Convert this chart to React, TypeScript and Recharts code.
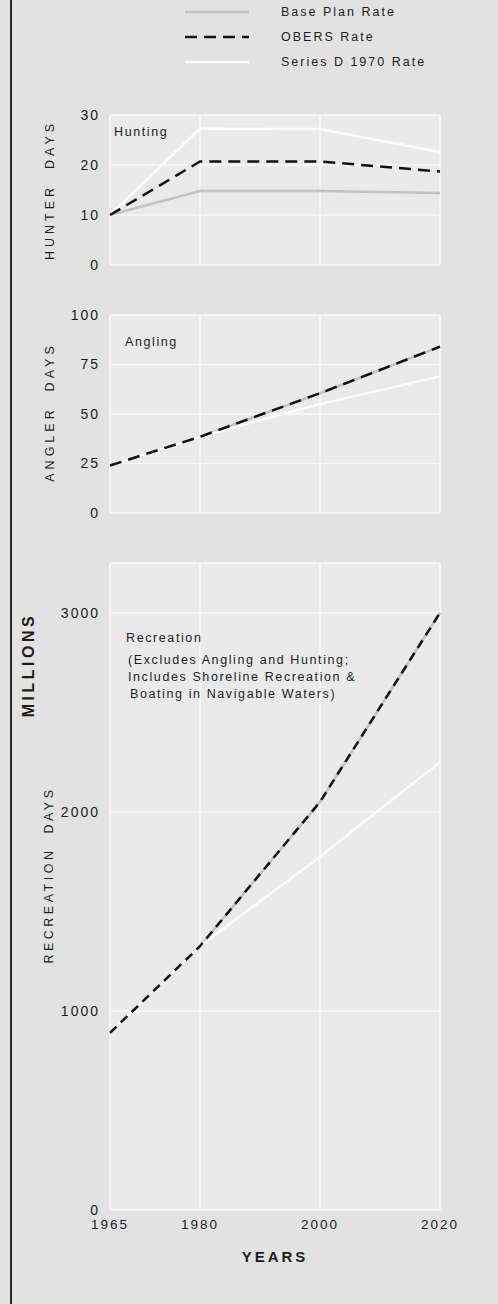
import React from 'react';
import { LineChart, Line, XAxis, YAxis, CartesianGrid, Legend, Label } from 'recharts';

const years = [1965, 1980, 2000, 2020];
const yearTicks = [1965, 1980, 2000, 2020];

// Hunting (hunter days, millions)
const huntBase = [10, 14.8, 14.8, 14.4];
const huntObers = [10, 20.7, 20.7, 18.7];
const huntSeriesD = [10, 27.3, 27.2, 22.6];
const huntTicks = [0, 10, 20, 30];

// Angling (angler days, millions)
const angBase = [24, 38.5, 60.5, 84];
const angObers = [24, 38.5, 60.5, 84];
const angSeriesD = [24, 38.5, 55, 69];
const angTicks = [0, 25, 50, 75, 100];

// Recreation (recreation days, millions)
const recBase = [890, 1325, 2050, 3000];
const recObers = [890, 1325, 2050, 3000];
const recSeriesD = [890, 1325, 1775, 2250];
const recTicks = [0, 1000, 2000, 3000];

const legendOrder = ['Base Plan Rate', 'OBERS Rate', 'Series D 1970 Rate'];

const BG = '#e2e2e2';
const PLOT = '#eaeaea';
const GRID = '#f8f8f8';
const INK = '#1c1c1c';
const BASE_COLOR = '#c2c2c2';
const SERIESD_COLOR = '#fbfbfb';
const FONT = '"Liberation Sans", Arial, sans-serif';

const build = (base: number[], obers: number[], seriesD: number[]) =>
  years.map((year, i) => ({ year, base: base[i], obers: obers[i], seriesD: seriesD[i] }));

const tickStyle = { fill: INK, fontSize: 14, letterSpacing: 2 };

// legend box is 80px tall; the chart adds it to the top offset
const LegendBox = (props: any) => {
  const items = [...(props.payload || [])].sort(
    (a: any, b: any) => legendOrder.indexOf(a.value) - legendOrder.indexOf(b.value)
  );
  return (
    <div style={{ position: 'relative', width: 498, height: 80 }}>
      {items.map((it: any, i: number) => (
        <div key={it.value} style={{ position: 'absolute', top: 3 + i * 25, left: 185, height: 18, display: 'flex', alignItems: 'center' }}>
          <svg width={64} height={6} style={{ display: 'block' }}>
            <line x1={0} y1={3} x2={64} y2={3} stroke={it.color} strokeWidth={2.5}
              strokeDasharray={it.payload && it.payload.strokeDasharray} />
          </svg>
          <span style={{ marginLeft: 32, fontSize: 12.5, letterSpacing: 2, color: INK, whiteSpace: 'nowrap' }}>{it.value}</span>
        </div>
      ))}
    </div>
  );
};

const vTitle = (text: string, x: number, y: number, size: number, spacing: number, weight = 400) => (
  <div style={{
    position: 'absolute', left: x, top: y, transform: 'translate(-50%, -50%) rotate(-90deg)',
    fontSize: size, letterSpacing: spacing, fontWeight: weight, whiteSpace: 'pre', color: INK,
  }}>{text}</div>
);

const note = (text: string, x: number, y: number) => (
  <div style={{ position: 'absolute', left: x, top: y, fontSize: 12.5, letterSpacing: 1.6, whiteSpace: 'pre', color: INK, lineHeight: '16px' }}>{text}</div>
);

const series = (dash: string) => [
  <Line key="b" type="linear" dataKey="base" name="Base Plan Rate" stroke={BASE_COLOR} strokeWidth={2.5} dot={false} isAnimationActive={false} />,
  <Line key="d" type="linear" dataKey="seriesD" name="Series D 1970 Rate" stroke={SERIESD_COLOR} strokeWidth={2.5} dot={false} isAnimationActive={false} />,
  <Line key="o" type="linear" dataKey="obers" name="OBERS Rate" stroke="#111" strokeWidth={2.5} strokeDasharray={dash} dot={false} isAnimationActive={false} />,
];

export default function App() {
  const hunting = build(huntBase, huntObers, huntSeriesD);
  const angling = build(angBase, angObers, angSeriesD);
  const recreation = build(recBase, recObers, recSeriesD);

  return (
    <div style={{ position: 'absolute', left: 0, top: 0, width: 498, height: 1304, background: BG, fontFamily: FONT, overflow: 'hidden' }}>
      <div style={{ position: 'absolute', left: 10, top: 0, width: 2, height: 1304, background: '#2a2a2a' }} />

      <div style={{ position: 'absolute', left: 0, top: 0 }}>
        <LineChart width={498} height={280} data={hunting} margin={{ top: 35, right: 58, bottom: 15, left: 50 }}>
          <CartesianGrid fill={PLOT} stroke={GRID} strokeWidth={1.5} />
          <XAxis dataKey="year" type="number" domain={[1965, 2020]} ticks={yearTicks} hide />
          <YAxis domain={[0, 30]} ticks={huntTicks} width={60} axisLine={false} tickLine={false} tickSize={0} tickMargin={10} tick={tickStyle} />
          <Legend layout="vertical" align="center" verticalAlign="top" content={LegendBox} wrapperStyle={{ top: 0, left: 0, width: 498 }} />
          {series('12 7')}
        </LineChart>
      </div>

      <div style={{ position: 'absolute', left: 0, top: 300 }}>
        <LineChart width={498} height={230} data={angling} margin={{ top: 15, right: 58, bottom: 17, left: 50 }}>
          <CartesianGrid fill={PLOT} stroke={GRID} strokeWidth={1.5} />
          <XAxis dataKey="year" type="number" domain={[1965, 2020]} ticks={yearTicks} hide />
          <YAxis domain={[0, 100]} ticks={angTicks} width={60} axisLine={false} tickLine={false} tickSize={0} tickMargin={10} tick={tickStyle} />
          {series('12 7')}
        </LineChart>
      </div>

      <div style={{ position: 'absolute', left: 0, top: 550 }}>
        <LineChart width={498} height={740} data={recreation} margin={{ top: 13, right: 58, bottom: 0, left: 50 }}>
          <CartesianGrid fill={PLOT} stroke={GRID} strokeWidth={1.5} />
          <XAxis dataKey="year" type="number" domain={[1965, 2020]} ticks={yearTicks} height={80} axisLine={false} tickLine={false} tickSize={0} tickMargin={9}
            tick={{ fill: INK, fontSize: 13.5, letterSpacing: 2 }}>
            <Label value="YEARS" position="insideBottom" offset={28} style={{ fill: INK, fontSize: 15, fontWeight: 700, letterSpacing: 3 }} />
          </XAxis>
          <YAxis domain={[0, 3250]} ticks={recTicks} width={60} axisLine={false} tickLine={false} tickSize={0} tickMargin={10} tick={tickStyle} />
          {series('9 6')}
        </LineChart>
      </div>

      {vTitle('HUNTER  DAYS', 50, 190, 12.5, 4)}
      {vTitle('ANGLER  DAYS', 50, 412, 12.5, 4)}
      {vTitle('MILLIONS', 29, 665, 16, 3.5, 700)}
      {vTitle('RECREATION  DAYS', 49, 875, 12.5, 3.5)}

      {note('Hunting', 114, 124)}
      {note('Angling', 125, 334)}
      {note('Recreation', 126, 630)}
      {note('(Excludes Angling and Hunting;', 128, 652)}
      {note('Includes Shoreline Recreation &', 128, 669)}
      {note('Boating in Navigable Waters)', 130, 686)}
    </div>
  );
}
